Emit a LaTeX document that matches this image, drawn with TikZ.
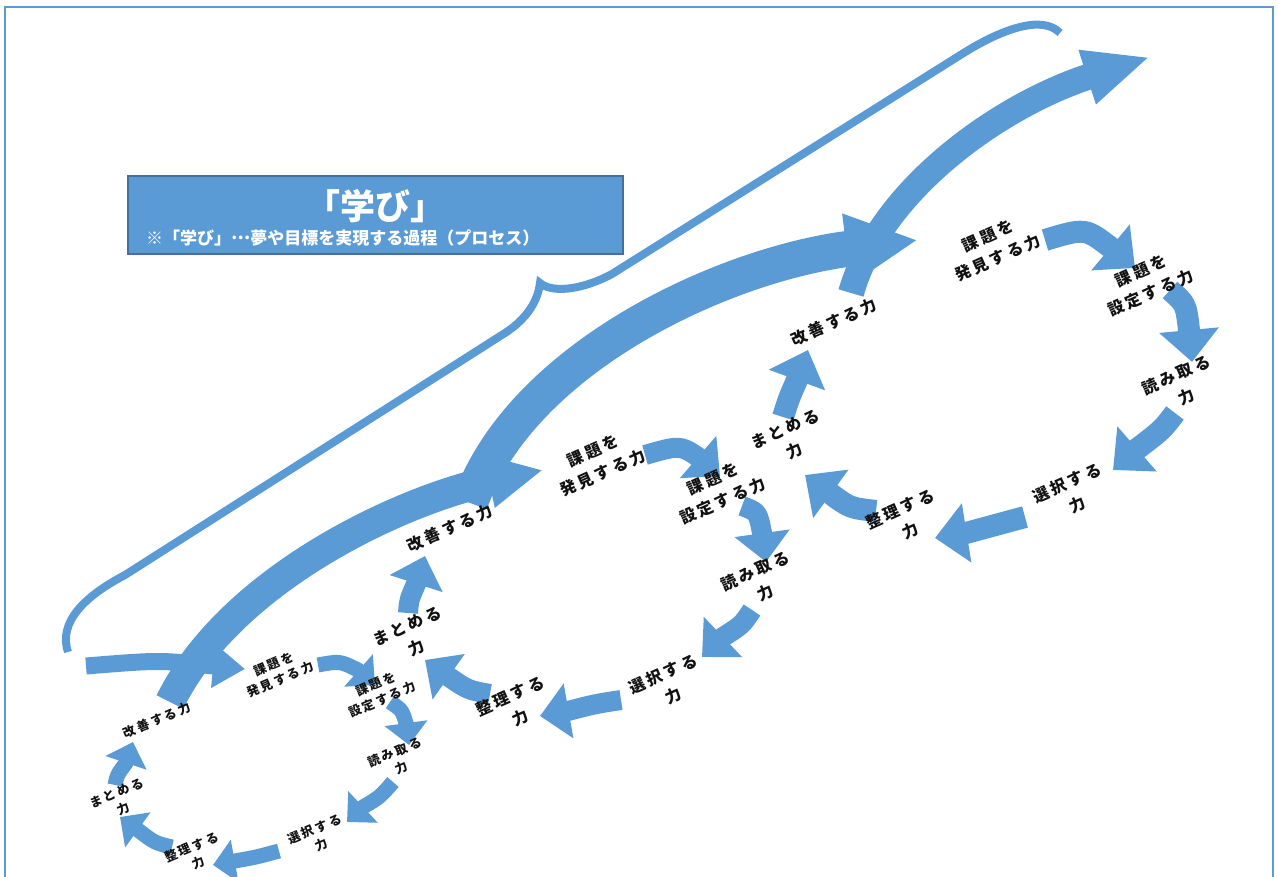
\documentclass[tikz,border=0pt]{standalone}
\usepackage{fontspec}
\setmainfont{Noto Sans CJK JP}
\newfontfamily\labfont[LetterSpace=18]{Noto Sans CJK JP}
\usetikzlibrary{arrows.meta}
\definecolor{myblue}{HTML}{5B9BD5}
\definecolor{boxedge}{HTML}{41719C}
\definecolor{labtext}{HTML}{111111}
\tikzset{
  labbig/.style={text=labtext, align=center, inner sep=0pt, rotate=24, font=\labfont\bfseries\fontsize{16}{24}\selectfont},
  labsmall/.style={text=labtext, align=center, inner sep=0pt, rotate=23, font=\labfont\bfseries\fontsize{12.5}{17}\selectfont},
  sa3/.style={myblue, line width=22pt, line join=round, -{Triangle[length=32pt,width=58pt]}},
  sa2/.style={myblue, line width=20pt, line join=round, -{Triangle[length=29pt,width=54pt]}},
  sa1/.style={myblue, line width=15pt, line join=round, -{Triangle[length=22pt,width=42pt]}},
  entry/.style={myblue, line width=17pt, line join=round, -{Triangle[length=32pt,width=42pt]}},
  bigone/.style={myblue, line width=30pt, -{Triangle[length=55pt,width=50pt]}},
  bigtwo/.style={myblue, line width=36pt, -{Triangle[length=72pt,width=66pt]}},
  bigthree/.style={myblue, line width=26pt, -{Triangle[length=66pt,width=52pt]}},
  bracestyle/.style={myblue, line width=8pt, miter limit=2}
}
\begin{document}
\begin{tikzpicture}[x=1pt,y=-1pt]
\useasboundingbox (0,0) rectangle (1278,877);
% frame
\draw[myblue, line width=2pt] (5,895) -- (5,7) -- (1273,7) -- (1273,895);

% brace
\path (68,652) coordinate (bra) (540,283) coordinate (brm) (1060,33) coordinate (brb);
\draw[bracestyle] (bra) .. controls (58,622) and (85,596) .. (125,575) -- (505,333)
  .. controls (528,318) and (538,300) .. (brm)
  .. controls (550,292) and (578,292) .. (612,274) -- (962,54)
  .. controls (1000,30) and (1042,14) .. (brb);

% title box
\node[draw=boxedge, line width=2pt, fill=myblue, minimum width=495pt, minimum height=78pt, inner sep=0pt] (box) at (375.5,215) {};
\node[text=white, font=\bfseries\fontsize{35}{37}\selectfont, inner sep=0pt] (title) at (375,206) {「学び」};
\node[text=white, font=\bfseries\fontsize{17}{20}\selectfont, inner sep=0pt, anchor=west] (sub) at (146,238) {※「学び」\raisebox{0.32em}{…}夢や目標を実現する過程（プロセス）};

% small arrows ring 3: start, control, head base, tip
\path (1045,240) coordinate (c3s1) (1135,268) coordinate (c3e1)
      (1170,290) coordinate (c3s2) (1192,362) coordinate (c3e2)
      (1175,413) coordinate (c3s3) (1113,470) coordinate (c3e3)
      (1025,517) coordinate (c3s4) (935,538) coordinate (c3e4)
      (876,511) coordinate (c3s5) (805,475) coordinate (c3e5)
      (783,417) coordinate (c3s6) (808,350) coordinate (c3e6);
\draw[sa3] (c3s1) .. controls (1085,228) .. (1110,247) -- (c3e1);
\draw[sa3] (c3s2) .. controls (1186,304) .. (1189,330) -- (c3e2);
\draw[sa3] (c3s3) .. controls (1162,430) .. (1137,449) -- (c3e3);
\draw[sa3] (c3s4) .. controls (995,525) .. (966,533) -- (c3e4);
\draw[sa3] (c3s5) .. controls (850,508) .. (831,494) -- (c3e5);
\draw[sa3] (c3s6) .. controls (789,398) .. (797,380) -- (c3e6);
% small arrows ring 2
\path (645,455) coordinate (c2s1) (720,476) coordinate (c2e1)
      (742,506) coordinate (c2s2) (766,562) coordinate (c2e2)
      (752,610) coordinate (c2s3) (702,657) coordinate (c2e3)
      (621,700) coordinate (c2s4) (540,716) coordinate (c2e4)
      (490,694) coordinate (c2s5) (425,660) coordinate (c2e5)
      (408,613) coordinate (c2s6) (425,556) coordinate (c2e6);
\draw[sa2] (c2s1) .. controls (680,445) .. (698,457) -- (c2e1);
\draw[sa2] (c2s2) .. controls (758,512) .. (762,533) -- (c2e2);
\draw[sa2] (c2s3) .. controls (742,625) .. (723,637) -- (c2e3);
\draw[sa2] (c2s4) .. controls (595,704) .. (568,711) -- (c2e4);
\draw[sa2] (c2s5) .. controls (468,690) .. (449,677) -- (c2e5);
\draw[sa2] (c2s6) .. controls (409,600) .. (416,584) -- (c2e6);
% small arrows ring 1
\path (318,665) coordinate (c1s1) (375,685) coordinate (c1e1)
      (390,702) coordinate (c1s2) (409,745) coordinate (c1e2)
      (393,782) coordinate (c1s3) (347,822) coordinate (c1e3)
      (279,851) coordinate (c1s4) (213,865) coordinate (c1e4)
      (172,847) coordinate (c1s5) (120,817) coordinate (c1e5)
      (115,785) coordinate (c1s6) (133,742) coordinate (c1e6);
\draw[sa1] (c1s1) .. controls (340,661) .. (358,670) -- (c1e1);
\draw[sa1] (c1s2) .. controls (402,710) .. (406,723) -- (c1e2);
\draw[sa1] (c1s3) .. controls (380,797) .. (363,807) -- (c1e3);
\draw[sa1] (c1s4) .. controls (257,857) .. (235,861) -- (c1e4);
\draw[sa1] (c1s5) .. controls (155,843) .. (138,830) -- (c1e5);
\draw[sa1] (c1s6) .. controls (117,775) .. (126,763) -- (c1e6);

% entry arrow
\path (86,666) coordinate (ein) (245,669) coordinate (eout);
\draw[entry] (ein) .. controls (160,660) .. (213,666) -- (eout);

% big arcs
\path (170,702) coordinate (b1s) (543,470) coordinate (b1e)
      (470,503) coordinate (b2s) (918,240) coordinate (b2e)
      (851,293) coordinate (b3s) (1150,57) coordinate (b3e);
\draw[bigone] (b1s) .. controls (230,580) and (400,500) .. (b1e);
\draw[bigtwo] (b2s) .. controls (520,360) and (720,265) .. (b2e);
\draw[bigthree] (b3s) .. controls (880,190) and (1000,105) .. (b3e);

% labels ring 3
\node[labbig] (r3a) at (993,247) {課題を\\発見する力};
\node[labbig] (r3b) at (1146,282) {課題を\\設定する力};
\node[labbig] (r3c) at (1181,386) {読み取る\\力};
\node[labbig] (r3d) at (1072,494) {選択する\\力};
\node[labbig] (r3e) at (905,520) {整理する\\力};
\node[labbig] (r3f) at (790,440) {まとめる\\力};
\node[labbig] (r3g) at (834,322) {改善する力};
% labels ring 2
\node[labbig] (r2a) at (598,462) {課題を\\発見する力};
\node[labbig] (r2b) at (718,490) {課題を\\設定する力};
\node[labbig] (r2c) at (760,582) {読み取る\\力};
\node[labbig] (r2d) at (668,685) {選択する\\力};
\node[labbig] (r2e) at (515,707) {整理する\\力};
\node[labbig] (r2f) at (412,637) {まとめる\\力};
\node[labbig] (r2g) at (450,528) {改善する力};
% labels ring 1
\node[labsmall] (r1a) at (277,672) {課題を\\発見する力};
\node[labsmall] (r1b) at (379,692) {課題を\\設定する力};
\node[labsmall] (r1c) at (398,760) {読み取る\\力};
\node[labsmall] (r1d) at (318,837) {選択する\\力};
\node[labsmall] (r1e) at (195,855) {整理する\\力};
\node[labsmall] (r1f) at (120,801) {まとめる\\力};
\node[labsmall] (r1g) at (157,720) {改善する力};
\end{tikzpicture}
\end{document}
